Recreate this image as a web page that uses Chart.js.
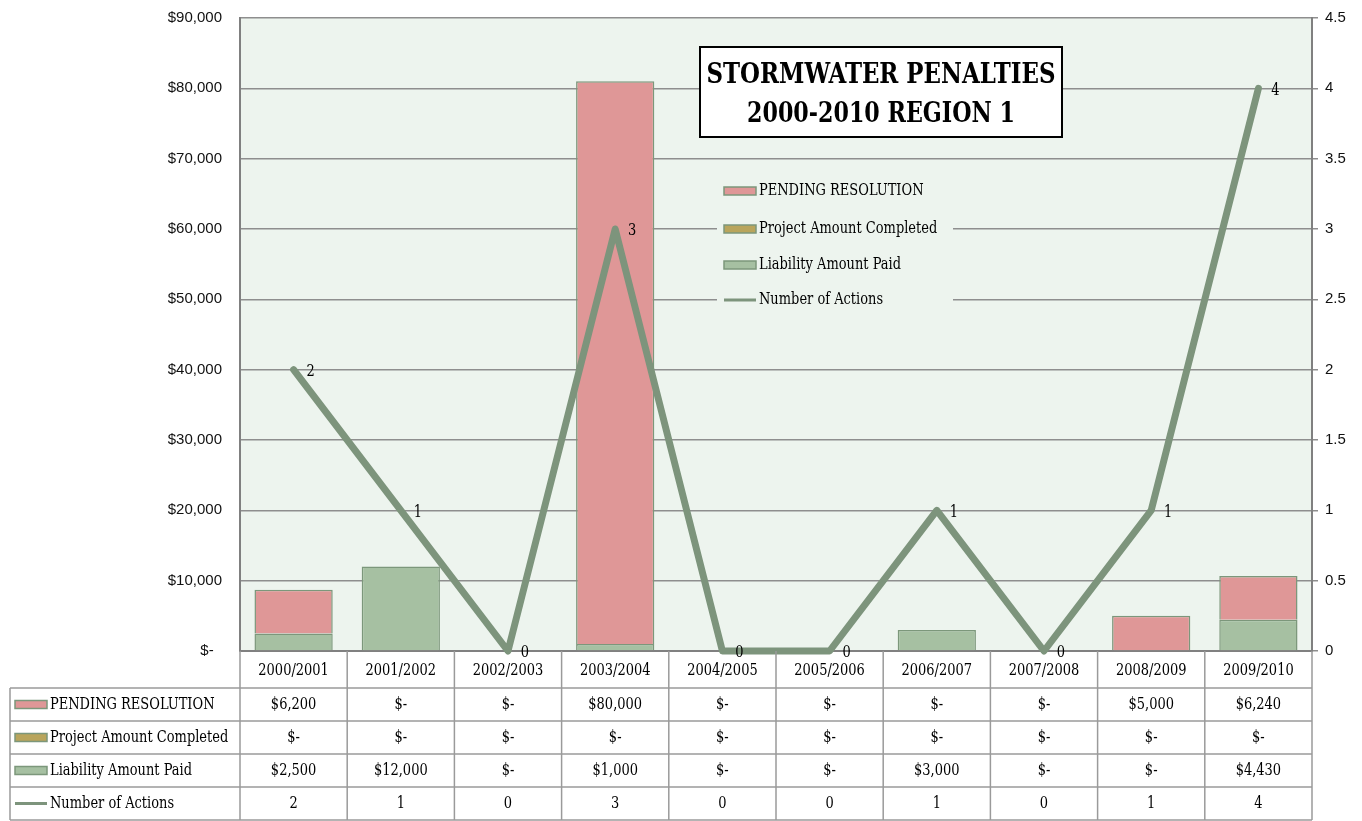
<!DOCTYPE html>
<html>
<head>
<meta charset="utf-8">
<script src="https://cdn.jsdelivr.net/npm/chart.js@4"></script>
<style>
  body { margin: 0; background: #ffffff; }
  #wrap { width: 1362px; height: 821px; }
</style>
</head>
<body>
<div id="wrap"><canvas id="chart" width="1362" height="821"></canvas></div>
<script>
const years = ['2000/2001', '2001/2002', '2002/2003', '2003/2004', '2004/2005',
               '2005/2006', '2006/2007', '2007/2008', '2008/2009', '2009/2010'];
const pendingResolution = [6200, 0, 0, 80000, 0, 0, 0, 0, 5000, 6240];
const projectCompleted = [0, 0, 0, 0, 0, 0, 0, 0, 0, 0];
const liabilityPaid = [2500, 12000, 0, 1000, 0, 0, 3000, 0, 0, 4430];
const numberOfActions = [2, 1, 0, 3, 0, 0, 1, 0, 1, 4];
const titleLines = ['STORMWATER PENALTIES', '2000-2010 REGION 1'];

const SERIF = '"DejaVu Serif Condensed", "Liberation Serif", serif';
const SANS = '"Liberation Sans", Arial, sans-serif';
const plotBg = '#EDF4EE';
const gridColor = '#8E8E8E';
const edgeGreen = '#7C977B';
const TXT = '17px ' + SERIF;
const SX = 0.85; // squeeze text to look like a condensed slab face

function money(v) {
    return v === 0 ? '$-' : '$' + v.toLocaleString('en-US');
}

function sText(ctx, t, x, y, align) {
    ctx.save();
    ctx.translate(x, y);
    ctx.scale(SX, 1);
    ctx.textAlign = align;
    ctx.fillText(t, 0, 0);
    ctx.restore();
}

// light green plot background
const plotBackground = {
    id: 'plotBackground',
    beforeDraw(chart) {
        const a = chart.chartArea;
        const ctx = chart.ctx;
        ctx.save();
        ctx.fillStyle = plotBg;
        ctx.fillRect(a.left, a.top, a.right - a.left, a.bottom - a.top);
        ctx.restore();
    }
};

// value labels next to the line points
const lineLabels = {
    id: 'lineLabels',
    afterDatasetsDraw(chart) {
        const ctx = chart.ctx;
        const idx = chart.data.datasets.findIndex(d => d.type === 'line');
        const meta = chart.getDatasetMeta(idx);
        ctx.save();
        ctx.font = TXT;
        ctx.fillStyle = '#000';
        ctx.textBaseline = 'middle';
        meta.data.forEach((pt, i) => {
            sText(ctx, String(chart.data.datasets[idx].data[i]), pt.x + 17, pt.y + 2, 'center');
        });
        ctx.restore();
    }
};

function drawKey(ctx, ds, x, y) {
    if (ds.type === 'line') {
        ctx.strokeStyle = ds.borderColor;
        ctx.lineWidth = 3;
        ctx.beginPath();
        ctx.moveTo(x, y);
        ctx.lineTo(x + 32, y);
        ctx.stroke();
    } else {
        ctx.fillStyle = ds.backgroundColor;
        ctx.fillRect(x, y - 4, 32, 8);
        ctx.strokeStyle = edgeGreen;
        ctx.lineWidth = 1.5;
        ctx.strokeRect(x, y - 4, 32, 8);
    }
}

// title box and legend inside the plot
const overlays = {
    id: 'overlays',
    afterDraw(chart) {
        const ctx = chart.ctx;
        ctx.save();
        // title box
        ctx.fillStyle = '#fff';
        ctx.fillRect(700, 47, 362, 90);
        ctx.strokeStyle = '#000';
        ctx.lineWidth = 2;
        ctx.strokeRect(700, 47, 362, 90);
        ctx.fillStyle = '#000';
        ctx.font = 'bold 28px ' + SERIF;
        ctx.textBaseline = 'middle';
        ctx.textAlign = 'center';
        titleLines.forEach((t, i) => {
            const w = ctx.measureText(t).width;
            const target = i === 0 ? 349 : 268;
            ctx.save();
            ctx.translate(881, 76 + i * 39);
            ctx.scale(target / w, 1);
            ctx.fillText(t, 0, 0);
            ctx.restore();
        });

        // legend
        ctx.fillStyle = plotBg;
        ctx.fillRect(717, 172, 236, 146);
        const order = ['PENDING RESOLUTION', 'Project Amount Completed', 'Liability Amount Paid', 'Number of Actions'];
        const ys = [191, 229, 265, 300];
        ctx.font = TXT;
        order.forEach((lab, i) => {
            const ds = chart.data.datasets.find(d => d.label === lab);
            drawKey(ctx, ds, 724, ys[i]);
            ctx.fillStyle = '#000';
            sText(ctx, lab, 759, ys[i], 'left');
        });
        ctx.restore();
    }
};

// data table under the plot
const dataTable = {
    id: 'dataTable',
    afterDraw(chart) {
        const ctx = chart.ctx;
        const xs = chart.scales.x;
        const a = chart.chartArea;
        const cw = (a.right - a.left) / years.length;
        const top = a.bottom;
        const rowsY = [688, 721, 754, 787, 820];
        const left = 10;
        ctx.save();
        ctx.strokeStyle = '#9A9A9A';
        ctx.lineWidth = 1.5;
        // vertical lines
        for (let i = 0; i <= years.length; i++) {
            const x = a.left + i * cw;
            ctx.beginPath();
            ctx.moveTo(x, top);
            ctx.lineTo(x, rowsY[rowsY.length - 1]);
            ctx.stroke();
        }
        ctx.beginPath();
        ctx.moveTo(left, rowsY[0]);
        ctx.lineTo(left, rowsY[rowsY.length - 1]);
        ctx.stroke();
        rowsY.forEach(y => {
            ctx.beginPath();
            ctx.moveTo(left, y);
            ctx.lineTo(a.right, y);
            ctx.stroke();
        });

        ctx.font = TXT;
        ctx.fillStyle = '#000';
        ctx.textBaseline = 'middle';
        years.forEach((y, i) => {
            sText(ctx, y, xs.getPixelForValue(i), (top + rowsY[0]) / 2 + 1, 'center');
        });

        const rows = [
            { label: 'PENDING RESOLUTION', vals: pendingResolution.map(money) },
            { label: 'Project Amount Completed', vals: projectCompleted.map(money) },
            { label: 'Liability Amount Paid', vals: liabilityPaid.map(money) },
            { label: 'Number of Actions', vals: numberOfActions.map(String) }
        ];
        rows.forEach((r, ri) => {
            const cy = (rowsY[ri] + rowsY[ri + 1]) / 2;
            const ds = chart.data.datasets.find(d => d.label === r.label);
            drawKey(ctx, ds, 15, cy);
            ctx.fillStyle = '#000';
            sText(ctx, r.label, 50, cy, 'left');
            r.vals.forEach((v, i) => sText(ctx, v, xs.getPixelForValue(i), cy, 'center'));
        });
        ctx.restore();
    }
};

function noPad(scale) {
    scale.paddingTop = 0;
    scale.paddingBottom = 0;
}

const ctx = document.getElementById('chart').getContext('2d');
new Chart(ctx, {
    data: {
        labels: years,
        datasets: [
            {
                type: 'bar', label: 'Liability Amount Paid', data: liabilityPaid,
                backgroundColor: '#A6C0A2', borderColor: edgeGreen, borderWidth: 1.5,
                yAxisID: 'y', order: 1, barPercentage: 0.73, categoryPercentage: 1
            },
            {
                type: 'bar', label: 'Project Amount Completed', data: projectCompleted,
                backgroundColor: '#B9A55C', borderColor: edgeGreen, borderWidth: 1.5,
                yAxisID: 'y', order: 1, barPercentage: 0.73, categoryPercentage: 1
            },
            {
                type: 'bar', label: 'PENDING RESOLUTION', data: pendingResolution,
                backgroundColor: '#DF9797', borderColor: edgeGreen, borderWidth: 1.5,
                yAxisID: 'y', order: 1, barPercentage: 0.73, categoryPercentage: 1
            },
            {
                type: 'line', label: 'Number of Actions', data: numberOfActions,
                borderColor: '#7D947C', borderWidth: 7, pointRadius: 0,
                borderCapStyle: 'round', borderJoinStyle: 'round',
                yAxisID: 'y1', order: 0, clip: false, tension: 0
            }
        ]
    },
    options: {
        responsive: false,
        animation: false,
        devicePixelRatio: 1,
        layout: { padding: { top: 18, bottom: 170, left: 0, right: 0 } },
        plugins: {
            legend: { display: false },
            tooltip: { enabled: false }
        },
        scales: {
            x: {
                stacked: true,
                ticks: { display: false },
                grid: { display: false, drawTicks: false },
                border: { display: true, color: '#808080', width: 2 },
                afterFit(scale) { scale.height = 0; }
            },
            y: {
                stacked: true,
                min: 0, max: 90000,
                ticks: {
                    stepSize: 10000, padding: 18, color: '#111',
                    font: { family: SANS, size: 15 },
                    callback: v => v === 0 ? '$-  ' : money(v)
                },
                grid: { color: gridColor, lineWidth: 1.5, drawTicks: false },
                border: { color: '#808080', width: 2 },
                afterFit(scale) { scale.width = 240; noPad(scale); }
            },
            y1: {
                position: 'right',
                min: 0, max: 4.5,
                ticks: {
                    stepSize: 0.5, padding: 7, color: '#111',
                    font: { family: SANS, size: 15 },
                    callback: v => String(v)
                },
                grid: { drawOnChartArea: false, color: gridColor, tickLength: 6, lineWidth: 1.5 },
                border: { color: '#808080', width: 2 },
                afterFit(scale) { scale.width = 50; noPad(scale); }
            }
        }
    },
    plugins: [plotBackground, lineLabels, overlays, dataTable]
});
</script>
</body>
</html>
